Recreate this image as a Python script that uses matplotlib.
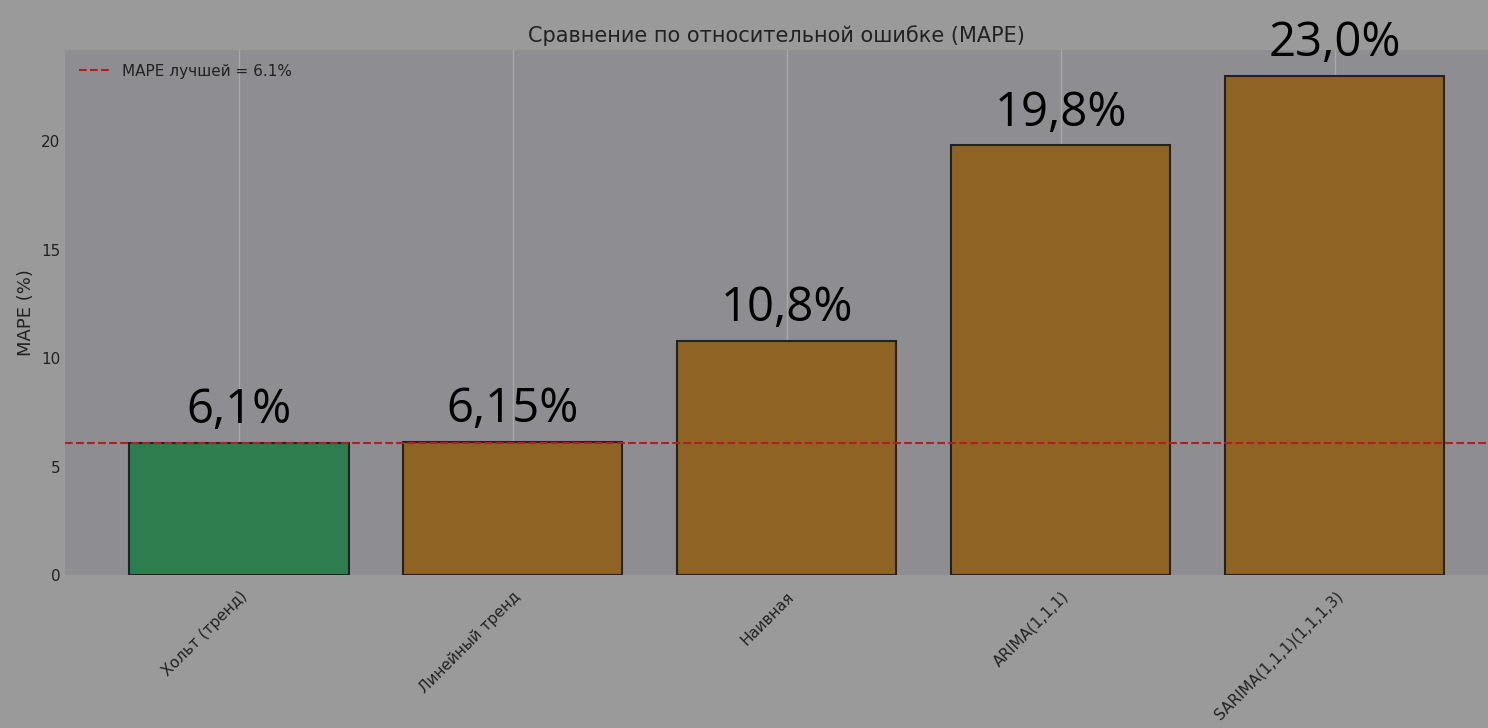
import matplotlib
matplotlib.use("Agg")
import matplotlib.pyplot as plt

models = ["Хольт (тренд)", "Линейный тренд", "Наивная", "ARIMA(1,1,1)", "SARIMA(1,1,1)(1,1,1,3)"]
mape = [6.1, 6.15, 10.8, 19.8, 23.0]
labels = ["6,1%", "6,15%", "10,8%", "19,8%", "23,0%"]
best = 6.1

fig = plt.figure(figsize=(14.88, 7.28), dpi=100, facecolor="#9a9a9a")
ax = fig.add_axes([65/1488, 1-575/728, (1488-65)/1488, (575-50)/728])
ax.set_facecolor("#8e8d92")
for s in ax.spines.values():
    s.set_visible(False)
ax.grid(axis="x", color="#a8a8ac", linewidth=1)
ax.set_axisbelow(True)
colors = ["#2e7d4f"] + ["#8f6323"] * 4
x = list(range(len(models)))
ax.bar(x, mape, width=0.8, color=colors, edgecolor="#222222", linewidth=1.5)
for xi, v, l in zip(x, mape, labels):
    ax.text(xi, v + 0.4, l, ha="center", va="bottom", fontsize=34, color="black", family="Open Sans")
ax.axhline(best, color="#b02020", linestyle="--", linewidth=1.5, label=f"MAPE лучшей = {best}%")
ax.set_xlim(-0.635, 4.56)
ax.set_ylim(0, 24.2)
ax.set_yticks([0, 5, 10, 15, 20])
ax.set_xticks(x)
ax.set_xticklabels(models, rotation=45, ha="right", rotation_mode="anchor", fontsize=11, color="#222222")
ax.tick_params(axis="y", labelsize=11, colors="#222222", length=0)
ax.tick_params(axis="x", length=0, pad=10)
ax.set_ylabel("MAPE (%)", fontsize=13, color="#222222")
ax.set_title("Сравнение по относительной ошибке (MAPE)", fontsize=15, color="#222222", pad=6)
leg = ax.legend(loc="upper left", frameon=False, fontsize=11, labelcolor="#222222")
fig.savefig("out.png", dpi=100, facecolor=fig.get_facecolor())
